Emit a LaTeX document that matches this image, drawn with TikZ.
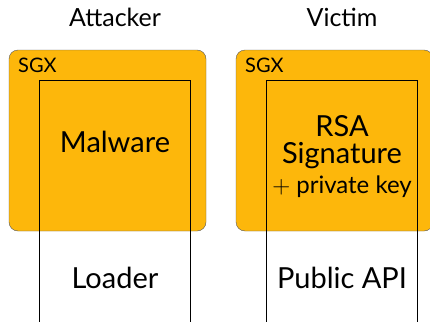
\documentclass[tikz,border=0pt]{standalone}
\usepackage{fontspec}
\setmainfont{Lato}
\usetikzlibrary{positioning}
\definecolor{sgxorange}{RGB}{253,183,11}
\tikzset{
  enclave/.style={draw=black!65, fill=sgxorange, rounded corners=9pt,
    minimum width=197pt, minimum height=181pt, inner sep=0pt},
  process/.style={draw=black, thin},
  title/.style={anchor=base, inner sep=0pt, font=\fontsize{25}{29}\selectfont},
  sgxlabel/.style={anchor=base west, inner sep=0pt, font=\fontsize{20}{23}\selectfont},
  biglabel/.style={anchor=base, inner sep=0pt, font=\fontsize{29}{33}\selectfont},
  smalllabel/.style={anchor=base, inner sep=0pt, font=\fontsize{24}{27}\selectfont}
}
\begin{document}
\begin{tikzpicture}[x=1pt,y=-1pt]
  \useasboundingbox (0,0) rectangle (430,321);
  \clip (0,0) rectangle (430,321);

  % Enclaves
  \node[enclave] (sgxA) at (107.5,140.5) {};
  \node[enclave] (sgxV) at (334.5,140.5) {};
  \node[sgxlabel] (sgxAlbl) at (18,72) {SGX};
  \node[sgxlabel] (sgxVlbl) at (245,72) {SGX};

  % Processes (open at the bottom)
  \draw[process] (39.5,330) -- (39.5,80) -- (190.5,80) -- (190.5,330);
  \draw[process] (266.5,330) -- (266.5,80) -- (417.5,80) -- (417.5,330);

  % Titles
  \node[title] (attacker) at (115,27) {Attacker};
  \node[title] (victim) at (342,27) {Victim};

  % Contents
  \node[biglabel] (malware) at (115,152) {Malware};
  \node[biglabel] (rsa) at (342,136) {RSA};
  \node[biglabel] (sig) at (342,163) {Signature};
  \node[smalllabel] (key) at (342,193) {$+$ private key};
  \node[biglabel] (loader) at (115,288) {Loader};
  \node[biglabel] (api) at (342,288) {Public API};
\end{tikzpicture}
\end{document}
